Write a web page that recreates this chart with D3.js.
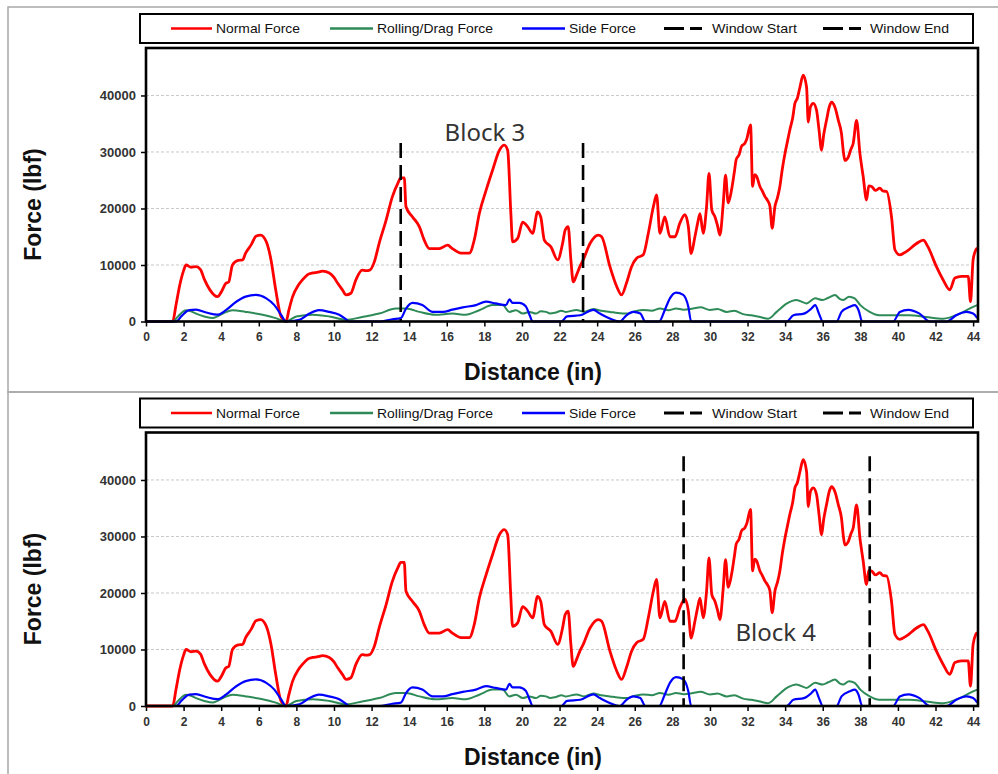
<!DOCTYPE html>
<html>
<head>
<meta charset="utf-8">
<script src="https://cdn.jsdelivr.net/npm/d3@7"></script>
<style>
  html,body{margin:0;padding:0;background:#fff;}
  svg{display:block;}
</style>
</head>
<body>
<svg id="chart" width="998" height="774"></svg>
<script>
// ---------------- DATA ----------------
const xTicks = [0,2,4,6,8,10,12,14,16,18,20,22,24,26,28,30,32,34,36,38,40,42,44];
const yTicks = [0,10000,20000,30000,40000];

const seriesNames = ["Normal Force","Rolling/Drag Force","Side Force","Window Start","Window End"];

const normalForce = [[0,0],[1.42,0],[1.6,3000],[1.8,6500],[2.0,9000],[2.13,10000],[2.4,9600],[2.66,9700],[2.9,9200],[3.1,7500],[3.4,5600],[3.8,4400],[4.0,5200],[4.25,6760],[4.4,7000],[4.6,10000],[4.9,10800],[5.14,10900],[5.3,12100],[5.6,13600],[5.85,15100],[6.1,15300],[6.4,14100],[6.65,10900],[6.9,5600],[7.18,900],[7.45,0],[7.6,2000],[7.8,4400],[8.1,6400],[8.33,7400],[8.6,8300],[8.87,8600],[9.1,8700],[9.4,8900],[9.75,8600],[10.0,7800],[10.2,6760],[10.45,5600],[10.64,4700],[10.9,5000],[11.17,7400],[11.5,9100],[11.7,9000],[11.9,9100],[12.15,10600],[12.4,13800],[12.77,17900],[13.1,22000],[13.4,24500],[13.56,25400],[13.74,25400],[13.83,20300],[14.18,18500],[14.54,16800],[14.8,14400],[15.07,12900],[15.6,12900],[16.05,13500],[16.3,12900],[16.76,12100],[17.2,12100],[17.46,14400],[17.73,19100],[18.09,23200],[18.44,26800],[18.8,30300],[19.06,31200],[19.24,30300],[19.41,19100],[19.5,14100],[19.77,14700],[20.04,17600],[20.3,16800],[20.57,15600],[20.83,19400],[21.0,18500],[21.19,14400],[21.54,13200],[21.9,10900],[22.16,13800],[22.3,16200],[22.46,16800],[22.6,11000],[22.73,7000],[22.9,8200],[23.08,9700],[23.26,10900],[23.62,13800],[24.06,15300],[24.24,15000],[24.68,9700],[25.04,6200],[25.3,4700],[25.56,6800],[25.83,9700],[26.1,11200],[26.45,11800],[26.72,15600],[26.99,20300],[27.16,22400],[27.34,15600],[27.6,18500],[27.87,15000],[28.14,15000],[28.4,17400],[28.67,18900],[28.85,16800],[29.0,12000],[29.2,15000],[29.35,17500],[29.47,19100],[29.64,15600],[29.82,20300],[29.95,26200],[30.1,19700],[30.27,18500],[30.4,17000],[30.53,15300],[30.71,21000],[30.83,25900],[30.97,21000],[31.15,23300],[31.3,26500],[31.4,28700],[31.55,29500],[31.68,31000],[31.85,31500],[31.95,32200],[32.16,34800],[32.27,23900],[32.38,26000],[32.48,25700],[32.66,23900],[32.8,23000],[32.93,22100],[33.05,21500],[33.19,20400],[33.31,16500],[33.46,20400],[33.6,22000],[33.72,23900],[33.85,27000],[33.99,29700],[34.1,31500],[34.25,33900],[34.4,36000],[34.52,38600],[34.65,39500],[34.79,41500],[34.96,43600],[35.14,41500],[35.23,35300],[35.35,38000],[35.5,38600],[35.67,37400],[35.8,34000],[35.94,30300],[36.05,33000],[36.2,35600],[36.35,38000],[36.47,38800],[36.65,37900],[36.83,35600],[37.0,33200],[37.1,30000],[37.18,28500],[37.36,29100],[37.5,30500],[37.62,31500],[37.8,35600],[37.98,29700],[38.15,25700],[38.33,21500],[38.45,24000],[38.6,23900],[38.8,23200],[39.04,23600],[39.2,23100],[39.4,23000],[39.66,18500],[39.84,12700],[40.1,11800],[40.46,12400],[40.99,13800],[41.35,14400],[41.6,13200],[42.05,9700],[42.4,7400],[42.76,5600],[43.03,7700],[43.38,8000],[43.74,8000],[43.86,3500],[44.0,10900],[44.15,12700],[44.22,13000]];

const rollingDragForce = [[0,0],[1.42,0],[1.7,900],[2.13,2000],[2.4,1800],[2.66,1400],[3.1,900],[3.55,600],[3.8,900],[4.08,1400],[4.6,2000],[5.3,1700],[6.2,1200],[6.9,600],[7.45,0],[8.0,900],[8.87,1200],[9.75,900],[10.64,300],[11.5,800],[12.0,1100],[12.4,1400],[13.3,2300],[13.83,2300],[14.54,1700],[15.4,1200],[16.3,1400],[17.0,1200],[17.73,2000],[18.44,2900],[18.97,2900],[19.33,1700],[19.68,2000],[20.04,1400],[20.4,1700],[20.74,1400],[21.0,1800],[21.28,1700],[21.5,1400],[21.8,1600],[22.1,1900],[22.34,1700],[22.9,2050],[23.3,1700],[23.8,2200],[24.2,1900],[24.68,1700],[25.1,1500],[25.56,1400],[26.0,1800],[26.45,2050],[26.9,1900],[27.34,2300],[27.8,2000],[28.2,2300],[28.6,2100],[29.1,2300],[29.5,2500],[30.0,2050],[30.4,2200],[30.9,1700],[31.3,1900],[31.77,1300],[32.2,1100],[32.66,800],[33.1,500],[33.55,1700],[34.1,3200],[34.6,3800],[35.14,3200],[35.6,4100],[36.0,3800],[36.3,4200],[36.65,4700],[36.9,4000],[37.1,3800],[37.4,4400],[37.7,4100],[38.0,2900],[38.5,1700],[39.0,1100],[39.75,1100],[40.6,1100],[41.5,800],[42.4,500],[43.3,1400],[44.0,2600],[44.22,2900]];

const sideForce = [[0,0],[1.6,0],[1.9,1000],[2.3,2000],[2.66,2100],[3.2,1600],[3.8,1200],[4.25,2000],[4.8,3500],[5.3,4400],[5.85,4700],[6.4,4100],[6.83,2900],[7.18,1200],[7.45,0],[8.16,300],[8.7,1400],[9.2,2000],[9.75,1700],[10.28,1200],[10.64,400],[10.8,0],[12.4,0],[13.1,400],[13.56,600],[13.83,2300],[14.18,3300],[14.7,2900],[15.25,1700],[15.8,1700],[16.3,2100],[16.85,2500],[17.55,2900],[18.09,3500],[18.6,3200],[19.15,2900],[19.33,3900],[19.5,3300],[19.86,3300],[20.2,2700],[20.4,1200],[20.57,0],[22.1,0],[22.4,900],[23.1,1100],[23.8,2050],[24.15,1400],[24.7,500],[25.2,0],[25.56,1100],[25.92,1700],[26.3,1400],[26.56,0],[27.3,0],[27.6,2050],[27.87,4100],[28.2,5100],[28.58,4700],[28.85,2600],[29.0,0],[34.08,0],[34.44,1100],[35.0,1400],[35.4,2300],[35.6,2900],[35.8,1400],[36.0,0],[36.74,0],[37.0,1700],[37.45,2600],[37.7,2900],[37.9,2050],[38.1,0],[39.75,0],[40.1,1700],[40.55,2050],[41.15,1400],[41.7,0],[42.6,0],[43.1,1100],[43.65,1700],[44.0,1400],[44.22,600]];

// window per panel: start, end, line top value, label, label position
const windowStart = [13.55, 28.6];
const windowEnd   = [23.25, 38.5];
const windowTop   = [31600, 44200];
const blockLabels = ["Block 3", "Block 4"];
const blockLabelX = [18.03, 33.5];
const blockLabelY = [32000, 11500];

// ---------------- DRAW ----------------
const svg = d3.select("#chart");
const colors = ["#ff0000", "#2e8b57", "#0000ff", "#000000", "#000000"];
const fontAxis = "'Liberation Sans', Arial, sans-serif";

const panelOffsets = [0, 384.5];

// outer frames
svg.append("rect").attr("x",8).attr("y",7).attr("width",1000).attr("height",385)
  .attr("fill","none").attr("stroke","#a8a8a8").attr("stroke-width",1.5);
svg.append("rect").attr("x",8).attr("y",392).attr("width",1000).attr("height",400)
  .attr("fill","none").attr("stroke","#a8a8a8").attr("stroke-width",1.5);

panelOffsets.forEach((off, pi) => {
  const g = svg.append("g");
  const left = 146, right = 978, top = 48 + off, bottom = 321.5 + off;
  const x = d3.scaleLinear().domain([0, 44.26]).range([left, right]);
  const y = d3.scaleLinear().domain([0, 48400]).range([bottom, top]);

  // gridlines
  g.append("g").selectAll("line").data(yTicks.filter(t => t > 0)).join("line")
    .attr("x1", left).attr("x2", right)
    .attr("y1", d => y(d)).attr("y2", d => y(d))
    .attr("stroke", "#c8c8c8").attr("stroke-width", 1).attr("stroke-dasharray", "3,2");

  // axes
  const xa = g.append("g").attr("transform", `translate(0,${bottom})`)
    .call(d3.axisBottom(x).tickValues(xTicks).tickSize(5).tickPadding(6));
  xa.select(".domain").remove();
  xa.selectAll("line").attr("stroke","#000").attr("stroke-width",1.5);
  xa.selectAll("text").attr("font-family", fontAxis).attr("font-size", 12)
    .attr("font-weight","bold").attr("fill","#333");

  const ya = g.append("g").attr("transform", `translate(${left},0)`)
    .call(d3.axisLeft(y).tickValues(yTicks).tickSize(5).tickPadding(5).tickFormat(d3.format("d")));
  ya.select(".domain").remove();
  ya.selectAll("line").attr("stroke","#000").attr("stroke-width",1.5);
  ya.selectAll("text").attr("font-family", fontAxis).attr("font-size", 13)
    .attr("font-weight","bold").attr("fill","#333");

  // clip
  const clipId = "clip" + pi;
  svg.append("clipPath").attr("id", clipId).append("rect")
    .attr("x", left).attr("y", top).attr("width", right-left).attr("height", bottom-top+2);

  const line = d3.line().x(d => x(d[0])).y(d => y(d[1])).curve(d3.curveMonotoneX);
  const curves = g.append("g").attr("clip-path", `url(#${clipId})`);
  curves.append("path").datum(normalForce).attr("d", line)
    .attr("fill","none").attr("stroke", colors[0]).attr("stroke-width", 2.8).attr("stroke-linejoin","round");
  curves.append("path").datum(rollingDragForce).attr("d", line)
    .attr("fill","none").attr("stroke", colors[1]).attr("stroke-width", 2).attr("stroke-linejoin","round");
  curves.append("path").datum(sideForce).attr("d", line)
    .attr("fill","none").attr("stroke", colors[2]).attr("stroke-width", 2.2).attr("stroke-linejoin","round");

  // window lines
  [windowStart[pi], windowEnd[pi]].forEach(wx => {
    g.append("line").attr("x1", x(wx)).attr("x2", x(wx))
      .attr("y1", y(windowTop[pi])).attr("y2", y(0))
      .attr("stroke","#000").attr("stroke-width",2.6).attr("stroke-dasharray","15,7");
  });

  // block label
  g.append("text").attr("x", x(blockLabelX[pi])).attr("y", y(blockLabelY[pi]))
    .attr("text-anchor","middle").attr("font-family","'Noto Sans', 'Open Sans', sans-serif")
    .attr("font-size", 24).attr("fill","#333").text(blockLabels[pi]);

  // plot border
  g.append("rect").attr("x", left).attr("y", top).attr("width", right-left).attr("height", bottom-top)
    .attr("fill","none").attr("stroke","#000").attr("stroke-width",2.6);

  // axis titles
  g.append("text").attr("transform", `translate(41,${204.5+off}) rotate(-90)`)
    .attr("text-anchor","middle").attr("font-family", fontAxis).attr("font-weight","bold")
    .attr("font-size", 23).attr("fill","#111").text("Force (lbf)");
  g.append("text").attr("x", 533).attr("y", 380 + off)
    .attr("text-anchor","middle").attr("font-family", fontAxis).attr("font-weight","bold")
    .attr("font-size", 23).attr("fill","#111").text("Distance (in)");

  // legend
  const lg = g.append("g");
  lg.append("rect").attr("x",140).attr("y",14+off).attr("width",833).attr("height",29)
    .attr("fill","#fff").attr("stroke","#000").attr("stroke-width",2);
  const legX1 = [171, 330, 522, 664, 823];
  const legX2 = [212, 373, 565, 708, 866];
  const legTextW = [84, 116, 67, 85, 79];
  const ly = 28.5 + off;
  seriesNames.forEach((name, i) => {
    const ln = lg.append("line").attr("x1", legX1[i]).attr("x2", legX2[i])
      .attr("y1", ly).attr("y2", ly).attr("stroke", colors[i])
      .attr("stroke-width", i >= 3 ? 3 : 2.5);
    if (i >= 3) ln.attr("stroke-dasharray","20,6,12,6");
    lg.append("text").attr("x", legX2[i] + 4).attr("y", ly).attr("dy","0.35em")
      .attr("font-family", fontAxis).attr("font-size", 13).attr("fill","#111")
      .attr("textLength", legTextW[i]).attr("lengthAdjust","spacingAndGlyphs")
      .text(name);
  });
});
</script>
</body>
</html>
